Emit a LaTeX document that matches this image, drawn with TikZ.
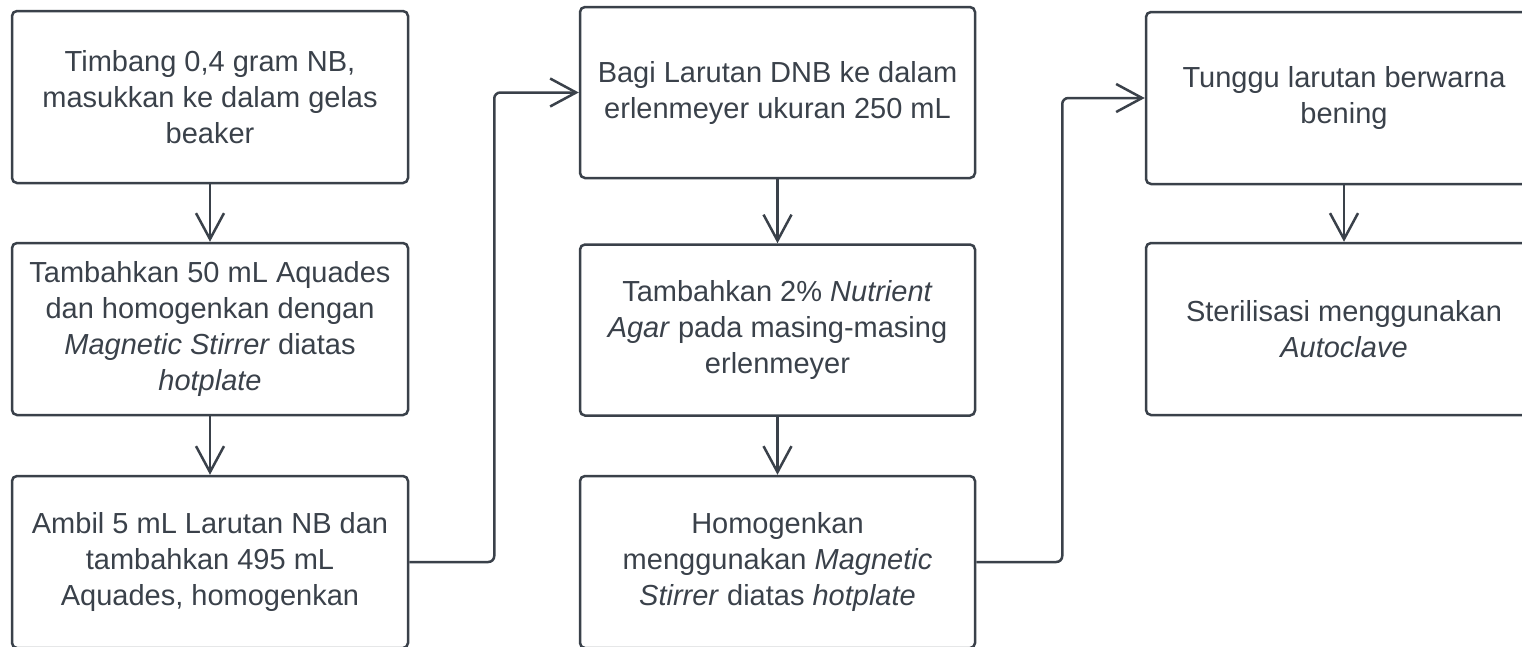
\documentclass[tikz,border=0pt]{standalone}
\usepackage{fontspec}
\setmainfont{Liberation Sans}
\usetikzlibrary{arrows.meta}
\definecolor{ink}{RGB}{58,65,74}
\begin{document}
\begin{tikzpicture}[x=1pt,y=-1pt,
  stepbox/.style={draw=ink, line width=2.5pt, rounded corners=5pt,
    minimum width=396pt, minimum height=172pt, inner sep=0pt,
    align=center, text=ink, font=\fontsize{29}{36}\selectfont},
  flow/.style={draw=ink, line width=2.5pt, rounded corners=6pt,
    -{Straight Barb[length=26pt,width=28pt]}}]
\useasboundingbox (0,0) rectangle (1522,646);

% first column
\node[stepbox] (a1) at (210,97) {Timbang 0,4 gram NB,\\masukkan ke dalam gelas\\beaker};
\node[stepbox] (a2) at (210,329) {Tambahkan 50 mL Aquades\\dan homogenkan dengan\\\textit{Magnetic Stirrer} diatas\\\textit{hotplate}};
\node[stepbox] (a3) at (210,562) {Ambil 5 mL Larutan NB dan\\tambahkan 495 mL\\Aquades, homogenkan};

% second column
\node[stepbox, minimum width=395pt, minimum height=171pt] (b1) at (777.5,92.5) {Bagi Larutan DNB ke dalam\\erlenmeyer ukuran 250 mL};
\node[stepbox, minimum width=395pt, minimum height=171pt] (b2) at (777.5,330) {Tambahkan 2\% \textit{Nutrient}\\\textit{Agar} pada masing-masing\\erlenmeyer};
\node[stepbox, minimum width=395pt] (b3) at (777.5,562) {Homogenkan\\menggunakan \textit{Magnetic}\\\textit{Stirrer} diatas \textit{hotplate}};

% third column
\node[stepbox] (c1) at (1344,98) {Tunggu larutan berwarna\\bening};
\node[stepbox] (c2) at (1344,329) {Sterilisasi menggunakan\\\textit{Autoclave}};

% connectors
\draw[flow] (a1) -- (a2);
\draw[flow] (a2) -- (a3);
\draw[flow] (a3.east) -- ++(85,0) |- (b1.west);
\draw[flow] (b1) -- (b2);
\draw[flow] (b2) -- (b3);
\draw[flow] (b3.east) -- ++(86,0) |- (c1.west);
\draw[flow] (c1) -- (c2);
\end{tikzpicture}
\end{document}
